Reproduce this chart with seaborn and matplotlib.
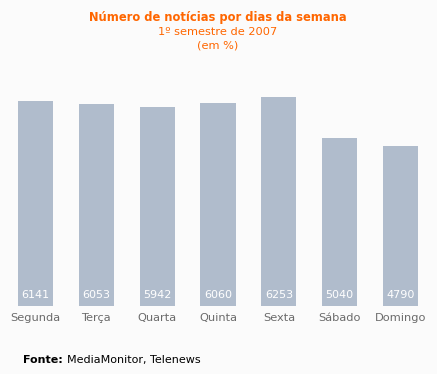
import matplotlib
matplotlib.use("Agg")
import matplotlib.pyplot as plt
import seaborn as sns
import pandas as pd

# data
dias = ["Segunda", "Terça", "Quarta", "Quinta", "Sexta", "Sábado", "Domingo"]
noticias = [6141, 6053, 5942, 6060, 6253, 5040, 4790]

df = pd.DataFrame({"Dia": dias, "Notícias": noticias})

bg = "#fbfbfb"
orange = "#ff6600"
bar_color = "#b0bccc"

sns.set_style("white")
plt.rcParams["font.family"] = ["DejaVu Sans"]

fig = plt.figure(figsize=(4.37, 3.74), dpi=100, facecolor=bg)
W, H = 437, 374
# axes placed in pixels: left 5, right 431, top 60, bottom 306
ax = fig.add_axes([5 / W, (H - 306) / H, 426 / W, 246 / H])
ax.set_facecolor(bg)

sns.barplot(data=df, x="Dia", y="Notícias", color=bar_color, width=0.576,
            saturation=1, linewidth=0, ax=ax)
ax.set_xlim(-0.5, 6.5)
ax.set_ylim(0, 6253 * 246 / 209)

# value labels inside the bars
for i, v in enumerate(noticias):
    ax.text(i, 11 / 246 * ax.get_ylim()[1], str(v), ha="center", va="center",
            color="white", fontsize=8)

ax.set_xlabel("")
ax.set_ylabel("")
ax.set_yticks([])
ax.tick_params(axis="x", length=0, pad=5, labelsize=8.2, labelcolor="#6b6b6b")
for s in ax.spines.values():
    s.set_visible(False)

fig.text(218 / W, 1 - 18 / H, "Número de notícias por dias da semana",
         ha="center", va="center", color=orange, fontsize=8.3, fontweight="bold")
fig.text(218 / W, 1 - 32 / H, "1º semestre de 2007",
         ha="center", va="center", color=orange, fontsize=8.2)
fig.text(218 / W, 1 - 46 / H, "(em %)",
         ha="center", va="center", color=orange, fontsize=8.2)

fonte = fig.text(23 / W, 1 - 360 / H, "Fonte:", ha="left", va="center",
                 color="black", fontsize=8, fontweight="bold")
fig.canvas.draw()
bb = fonte.get_window_extent()
fig.text((bb.x1 + 4) / W, 1 - 360 / H, "MediaMonitor, Telenews", ha="left",
         va="center", color="black", fontsize=8)

fig.savefig("out.png", dpi=100, facecolor=bg)
